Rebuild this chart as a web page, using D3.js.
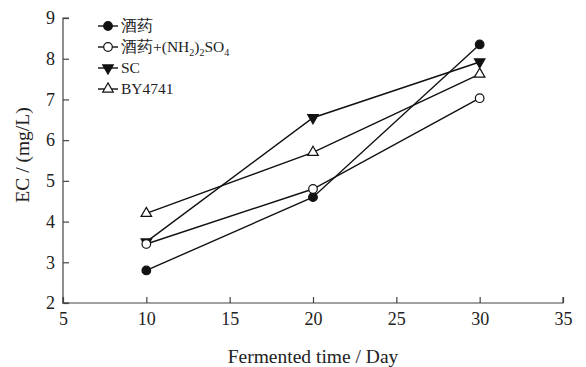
<!DOCTYPE html>
<html>
<head>
<meta charset="utf-8">
<script src="https://cdn.jsdelivr.net/npm/d3@7"></script>
<style>
  body { margin: 0; background: #fff; }
  text { font-family: "Liberation Serif", "Times New Roman", serif; fill: #222; }
</style>
</head>
<body>
<script>
const days = [10, 20, 30];
const jiuyao = [2.8, 4.6, 8.35];
const jiuyaoN = [3.45, 4.8, 7.03];
const sc = [3.5, 6.55, 7.92];
const by4741 = [4.2, 5.7, 7.62];
const xTicks = [5, 10, 15, 20, 25, 30, 35];
const yTicks = [2, 3, 4, 5, 6, 7, 8, 9];

const series = [
  { name: "酒药", values: jiuyao, shape: "circle", fill: "#111" },
  { name: "酒药+(NH2)2SO4", values: jiuyaoN, shape: "circle", fill: "#fff" },
  { name: "SC", values: sc, shape: "down", fill: "#111" },
  { name: "BY4741", values: by4741, shape: "up", fill: "#fff" }
];

let width = 586, height = 367;
let margin = { top: 18, right: 23, bottom: 64, left: 63 };

let svg = d3.select("body").append("svg")
  .attr("width", width).attr("height", height);

let x = d3.scaleLinear().domain([5, 35]).range([margin.left, width - margin.right]);
let y = d3.scaleLinear().domain([2, 9]).range([height - margin.bottom, margin.top]);

// axes, ticks inward
svg.append("g")
  .attr("transform", `translate(0,${height - margin.bottom})`)
  .call(d3.axisBottom(x).tickValues(xTicks).tickFormat(d3.format("d")).tickSize(-6).tickPadding(9))
  .call(g => g.select(".domain").attr("d", `M${x(5)},-6V0H${x(35)}V-6`))
  .call(g => g.selectAll("text").attr("font-size", 18).attr("font-family", "Liberation Serif"));

svg.append("g")
  .attr("transform", `translate(${margin.left},0)`)
  .call(d3.axisLeft(y).tickValues(yTicks).tickFormat(d3.format("d")).tickSize(-6).tickPadding(8))
  .call(g => g.select(".domain").attr("d", `M6,${y(9)}H0V${y(2)}H6`))
  .call(g => g.selectAll("text").attr("font-size", 18).attr("font-family", "Liberation Serif"));

svg.selectAll(".domain, .tick line").attr("stroke", "#444").attr("stroke-width", 1.2);

// axis titles
svg.append("text")
  .attr("x", x(20)).attr("y", 363)
  .attr("text-anchor", "middle").attr("font-size", 19.5)
  .text("Fermented time / Day");

svg.append("text")
  .attr("transform", `translate(29,155) rotate(-90)`)
  .attr("text-anchor", "middle").attr("font-size", 19.5)
  .text("EC / (mg/L)");

let line = d3.line()
  .x((d, i) => x(days[i]))
  .y(d => y(d));

function drawMarker(g, s, cx, cy) {
  if (s.shape === "circle") {
    g.append("circle").attr("cx", cx).attr("cy", cy).attr("r", 4.3)
      .attr("fill", s.fill).attr("stroke", "#111").attr("stroke-width", 1.2);
  } else {
    let rot = s.shape === "down" ? 180 : 0;
    g.append("path")
      .attr("d", d3.symbol().type(d3.symbolTriangle).size(48)())
      .attr("transform", `translate(${cx},${cy}) rotate(${rot})`)
      .attr("fill", s.fill).attr("stroke", "#111").attr("stroke-width", 1.2);
  }
}

series.forEach(s => {
  svg.append("path")
    .attr("d", line(s.values))
    .attr("fill", "none").attr("stroke", "#111").attr("stroke-width", 1.4);
});
// draw order so open circle sits over SC at day 10
[series[2], series[3], series[0], series[1]].forEach(s => {
  let g = svg.append("g");
  s.values.forEach((v, i) => drawMarker(g, s, x(days[i]), y(v)));
});

// legend
let legendY = [26, 47, 68, 89];
series.forEach((s, i) => {
  let g = svg.append("g");
  let ly = legendY[i];
  g.append("line").attr("x1", 98).attr("x2", 118).attr("y1", ly).attr("y2", ly)
    .attr("stroke", "#111").attr("stroke-width", 1.4);
  drawMarker(g, s, 108, ly);
  let t = g.append("text").attr("x", 121).attr("y", ly + 5).attr("font-size", 15.5);
  if (s.name === "酒药+(NH2)2SO4") {
    t.append("tspan").text("酒药+(NH");
    t.append("tspan").attr("font-size", 10).attr("dy", 4).text("2");
    t.append("tspan").attr("dy", -4).text(")");
    t.append("tspan").attr("font-size", 10).attr("dy", 4).text("2");
    t.append("tspan").attr("dy", -4).text("SO");
    t.append("tspan").attr("font-size", 10).attr("dy", 4).text("4");
  } else {
    t.text(s.name);
  }
});
</script>
</body>
</html>
